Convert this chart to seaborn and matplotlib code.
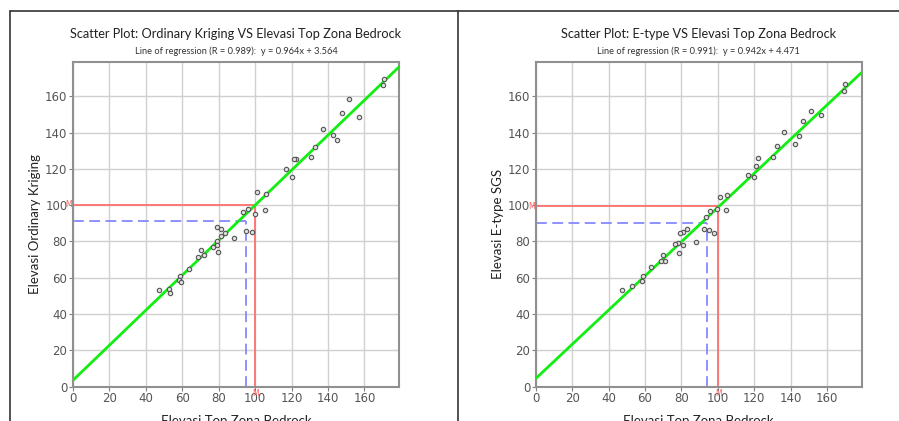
import matplotlib
matplotlib.use("Agg")
import matplotlib.pyplot as plt
import seaborn as sns
import numpy as np
import pandas as pd
from matplotlib.lines import Line2D

# ---------------- data ----------------
x_ok = [170.5, 170.0, 151.5, 147.6, 157.0, 137.2, 142.7, 144.9, 132.8, 130.9,
        122.2, 121.4, 117.0, 120.2, 101.3, 105.7, 105.3, 99.8, 96.0, 93.6,
        95.2, 98.2, 79.3, 81.1, 83.5, 88.3, 81.0, 78.8, 79.1, 77.1,
        79.5, 70.5, 71.8, 68.9, 63.7, 58.8, 58.2, 59.3, 52.7, 53.3, 47.4]
y_ok = [169.6, 166.3, 158.6, 150.8, 148.8, 142.0, 138.9, 135.6, 132.1, 126.7,
        125.6, 125.5, 120.1, 115.5, 107.0, 106.3, 97.3, 95.3, 97.9, 96.2,
        85.9, 85.4, 88.1, 87.0, 84.8, 81.7, 82.8, 80.0, 78.2, 77.2,
        74.3, 75.3, 72.3, 71.6, 64.8, 60.9, 58.9, 57.8, 53.9, 51.5, 53.5]

x_sgs = [170.1, 169.4, 150.9, 156.6, 147.0, 136.6, 144.5, 142.3, 132.4, 130.4,
         122.0, 121.0, 116.6, 119.8, 101.1, 105.1, 104.7, 99.6, 95.8, 93.4,
         92.5, 95.2, 97.8, 83.3, 80.9, 79.1, 87.9, 78.0, 76.7, 80.8,
         78.9, 70.1, 71.2, 68.7, 63.5, 58.8, 58.6, 52.7, 47.3]
y_sgs = [166.8, 162.6, 151.6, 149.7, 146.4, 140.1, 138.1, 133.5, 132.8, 126.6,
         125.8, 121.4, 116.6, 115.7, 104.7, 105.8, 97.5, 97.7, 96.9, 93.6,
         86.8, 86.1, 84.8, 86.8, 85.2, 84.8, 79.7, 79.3, 78.7, 77.8,
         73.9, 72.8, 69.0, 69.2, 65.9, 60.9, 58.3, 55.4, 53.0]

titles = ["Scatter Plot: Ordinary Kriging VS Elevasi Top Zona Bedrock",
          "Scatter Plot: E-type VS Elevasi Top Zona Bedrock"]
subtitles = ["Line of regression (R = 0.989):  y = 0.964x + 3.564",
             "Line of regression (R = 0.991):  y = 0.942x + 4.471"]
ylabels = ["Elevasi Ordinary Kriging", "Elevasi E-type SGS"]
xlabel = "Elevasi Top Zona Bedrock"
slopes = [0.964, 0.942]
intercepts = [3.564, 4.471]
means_x = [100.0, 100.2]
means_y = [100.1, 99.3]
medians_x = [94.9, 94.1]
medians_y = [91.4, 89.9]
ticks = [0, 20, 40, 60, 80, 100, 120, 140, 160]
lim = 179

# ---------------- figure ----------------
sns.set_theme(style="white")
plt.rcParams['font.family'] = ['Lato', 'DejaVu Sans']

fig = plt.figure(figsize=(8.99, 4.21), dpi=100)
W, H = 899, 421

# panel frames
fig.add_artist(Line2D([10 / W, 1.0], [1 - 11 / H, 1 - 11 / H], color="#333333", lw=1.2))
fig.add_artist(Line2D([10 / W, 10 / W], [0, 1 - 11 / H], color="#333333", lw=1.2))
fig.add_artist(Line2D([458 / W, 458 / W], [0, 1 - 11 / H], color="#333333", lw=1.2))

ax_left_px = [73, 535.7]
panels = [(x_ok, y_ok), (x_sgs, y_sgs)]

for i, (xs, ys) in enumerate(panels):
    left = ax_left_px[i] / W
    ax = fig.add_axes([left, 1 - 386.7 / H, 326 / W, 325 / H])
    ax.set_xlim(0, lim)
    ax.set_ylim(0, lim)
    ax.set_xticks(ticks)
    ax.set_yticks(ticks)
    ax.grid(True, color="#d0d0d0", lw=1.0)
    ax.set_axisbelow(True)
    for s in ax.spines.values():
        s.set_color("#909090")
        s.set_linewidth(1.5)
    ax.tick_params(axis="both", which="both", direction="out", length=3, width=0.8,
                   color="#808080", labelcolor="#555555", labelsize=8.5, pad=1,
                   bottom=True, left=True)
    for lab in ax.get_xticklabels() + ax.get_yticklabels():
        lab.set_family(['DejaVu Sans'])

    # mean (red) and median (blue dashed) guide lines
    mx, my = means_x[i], means_y[i]
    dx, dy = medians_x[i], medians_y[i]
    ax.plot([0, mx], [my, my], color="#ff7070", lw=1.3, zorder=2)
    ax.plot([mx, mx], [0, my], color="#ff7070", lw=1.3, zorder=2)
    ax.plot([0, dx], [dy, dy], color="#8888ff", lw=1.3, dashes=(6, 3), zorder=2)
    ax.plot([dx, dx], [0, dy], color="#8888ff", lw=1.3, dashes=(6, 3), zorder=2)
    ax.text(mx, -1, "M", color="#ff6060", fontsize=5.5, ha="center", va="top",
            clip_on=False, family=['DejaVu Sans'])
    ax.text(-0.5, my, "M", color="#ff6060", fontsize=5.5, ha="right", va="center",
            clip_on=False, family=['DejaVu Sans'])

    # regression line
    reg = pd.DataFrame({"x": [0, lim]})
    reg["y"] = slopes[i] * reg["x"] + intercepts[i]
    sns.lineplot(data=reg, x="x", y="y", ax=ax, color="#11ee11", lw=2.0, zorder=3)

    # scatter
    df = pd.DataFrame({"x": xs, "y": ys})
    sns.scatterplot(data=df, x="x", y="y", ax=ax, s=10, marker="o",
                    facecolor="#e0e0e0", edgecolor="#555555", linewidth=0.8, zorder=4)

    ax.set_xlabel(xlabel, fontsize=9.5, color="#222222", labelpad=7)
    ax.set_ylabel(ylabels[i], fontsize=9.5, color="#222222", labelpad=3)

    cx = left + 163 / W
    fig.text(cx, 1 - 34 / H, titles[i], ha="center", va="center", fontsize=9.2, color="#222222")
    fig.text(cx, 1 - 51 / H, subtitles[i], ha="center", va="center", fontsize=6.7, color="#333333")

fig.savefig("out.png", dpi=100)
